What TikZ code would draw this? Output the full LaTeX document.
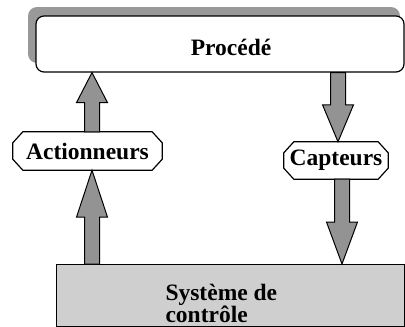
\documentclass[tikz,border=0pt]{standalone}
\usepackage{fontspec}
\setmainfont{Liberation Serif}
\usetikzlibrary{calc}
\definecolor{shadowgray}{HTML}{999999}
\definecolor{arrowgray}{HTML}{939393}
\definecolor{basegray}{HTML}{CFCFCF}
\pgfdeclarelayer{background}
\pgfsetlayers{background,main}
% octagonal outline around a named node
\newcommand\octoframe[1]{%
  \filldraw[octoline] ($(#1.north west)+(10,0)$) -- ($(#1.north east)+(-10,0)$)
    -- ($(#1.north east)+(0,11)$) -- ($(#1.south east)+(0,-11)$)
    -- ($(#1.south east)+(-10,0)$) -- ($(#1.south west)+(10,0)$)
    -- ($(#1.south west)+(0,-11)$) -- ($(#1.north west)+(0,11)$) -- cycle;}
\begin{document}
\begin{tikzpicture}[x=1pt,y=-1pt,
  labeltext/.style={font=\fontsize{23.5}{22}\selectfont\bfseries},
  octo/.style={rectangle, inner sep=0pt, labeltext},
  octoline/.style={draw=black, fill=white, line width=1.2pt},
  % vertical block arrow from start to target, head length as argument
  blk/.style={draw, fill=arrowgray, line width=1pt,
    to path={let \p1=(\tikztostart), \p2=(\tikztotarget),
      \n1={#1*sign(\y2-\y1)} in
      (\x1-7.5pt,\y1) -- (\x1-7.5pt,\y2-\n1*1pt) -- (\x2-15.5pt,\y2-\n1*1pt)
      -- (\x2,\y2) -- (\x2+15.5pt,\y2-\n1*1pt) -- (\x1+7.5pt,\y2-\n1*1pt)
      -- (\x1+7.5pt,\y1) -- cycle}}]
\useasboundingbox (0,0) rectangle (405,327);

% process box with its shadow
\fill[shadowgray, rounded corners=9pt] (28,7) rectangle (400,63);
\node (proc) [draw, fill=white, line width=1.2pt, rounded corners=8pt,
  minimum width=368pt, minimum height=56pt, inner sep=0pt] at (220,44) {};
\node (proctxt) [labeltext] at (231,47) {Procédé};

% control system
\node (sys) [draw, fill=basegray, line width=1.2pt, minimum width=348pt,
  minimum height=62pt, inner sep=0pt, anchor=north west] at (56,264) {};
\node (systxt) [labeltext, align=left, anchor=west] at (162,303) {Système de\\contrôle};

% actuators and sensors
\node (act) [octo, minimum width=149pt, minimum height=38pt] at (87.5,151) {Actionneurs};
\node (capt) [octo, minimum width=104pt, minimum height=37pt] at (336,160.5) {Capteurs};
\begin{pgfonlayer}{background}
  \octoframe{act}
  \octoframe{capt}
\end{pgfonlayer}

% arrows
\coordinate (al) at (92,0);
\coordinate (ar1) at (338,0);
\coordinate (ar2) at (342,0);
\draw[blk=30] (act.north -| al) to (proc.south -| al);
\draw[blk=47] (sys.north -| al) to (act.south -| al);
\draw[blk=37] (proc.south -| ar1) to (capt.north -| ar1);
\draw[blk=42] (capt.south -| ar2) to (sys.north -| ar2);
\end{tikzpicture}
\end{document}
